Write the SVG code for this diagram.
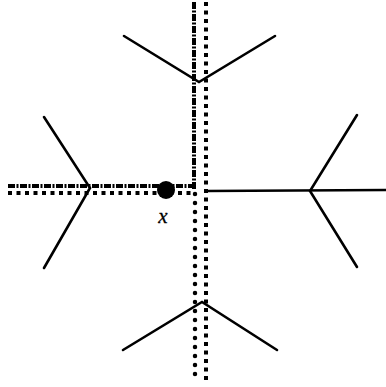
<svg xmlns="http://www.w3.org/2000/svg" width="386" height="387" viewBox="0 0 386 387">
<style>
.b{fill:none;stroke:#000;stroke-width:2.6;stroke-linecap:round;stroke-linejoin:miter}
.dd{fill:none;stroke:#000;stroke-width:4;stroke-dasharray:7,1.5,2,1.5}
.sq{fill:none;stroke:#000;stroke-width:4;stroke-dasharray:4,4.5}
.rd{fill:none;stroke:#000;stroke-width:4.5;stroke-linecap:round;stroke-dasharray:0,9}
</style>
<rect width="386" height="387" fill="#fff"/>
<g id="connectors">
<line class="dd" x1="194" y1="2" x2="194" y2="190"/>
<line class="rd" x1="195" y1="194" x2="195" y2="382"/>
<line class="sq" x1="206" y1="2" x2="206" y2="384"/>
<line class="dd" x1="8" y1="186" x2="192" y2="186"/>
<line class="sq" x1="8" y1="193" x2="192" y2="193"/>
<line class="b" x1="206" y1="191" x2="386" y2="190" stroke-width="3"/>
</g>
<g id="top"><polyline class="b" points="124,36 199,82 275,36"/></g>
<g id="bottom"><polyline class="b" points="123,350 202,302 277,350"/></g>
<g id="left"><polyline class="b" points="44,117 90,188 44,268"/></g>
<g id="right"><polyline class="b" points="357,115 310,191 357,267"/></g>
<g id="x-point">
<circle cx="166" cy="190" r="9" fill="#000"/>
<text x="163" y="223" font-family="Liberation Serif, serif" font-style="italic" font-size="21" stroke="#000" stroke-width="0.3" text-anchor="middle">x</text>
</g>
</svg>
